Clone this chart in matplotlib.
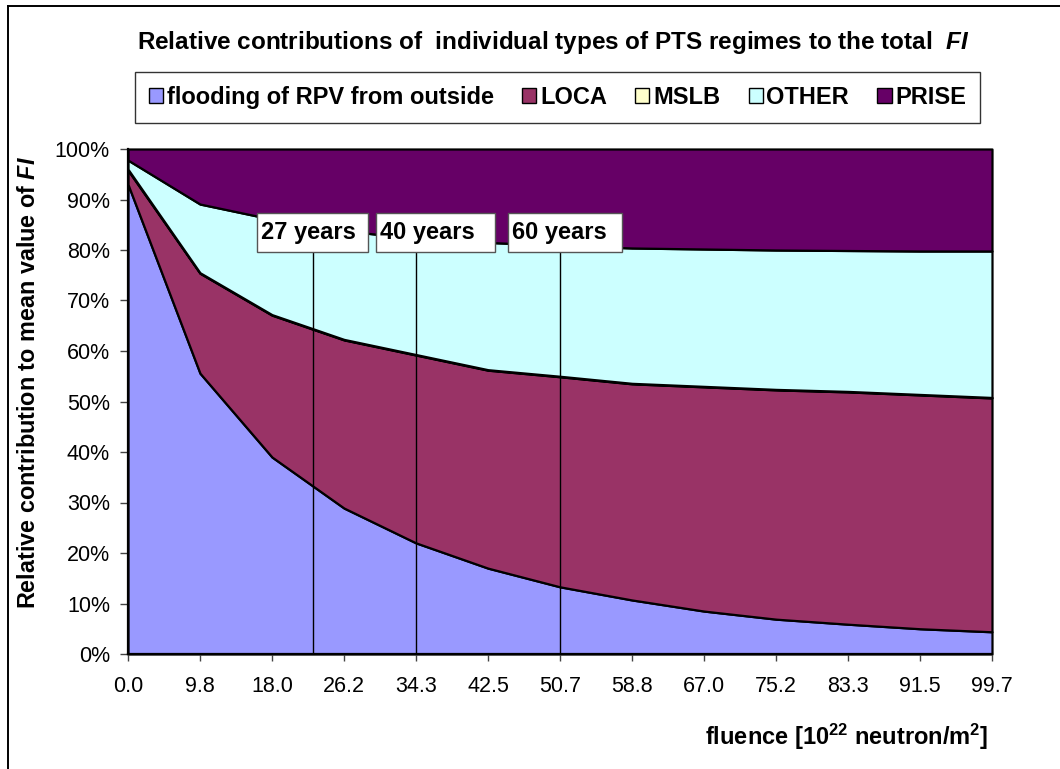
import matplotlib
matplotlib.use("Agg")
import numpy as np
import matplotlib.pyplot as plt
from matplotlib.patches import Patch, Rectangle
from matplotlib.lines import Line2D

# fluence categories [10^22 neutron/m^2]
fluence = ["0.0", "9.8", "18.0", "26.2", "34.3", "42.5", "50.7",
           "58.8", "67.0", "75.2", "83.3", "91.5", "99.7"]

# relative contributions [%]
flooding = [93.0, 55.6, 39.0, 28.9, 22.0, 17.0, 13.3, 10.7, 8.5, 6.9, 5.9, 5.0, 4.4]
loca = [2.8, 19.8, 28.1, 33.3, 37.2, 39.2, 41.6, 42.8, 44.4, 45.4, 46.0, 46.3, 46.3]
mslb = [0.2, 0.1, 0.1, 0.1, 0.1, 0.1, 0.1, 0.1, 0.1, 0.1, 0.1, 0.1, 0.1]
other = [1.8, 13.6, 18.9, 21.5, 23.0, 25.2, 25.9, 26.8, 27.2, 27.6, 27.9, 28.4, 29.0]
prise = [2.2, 10.9, 13.9, 16.2, 17.7, 18.5, 19.1, 19.6, 19.8, 20.0, 20.1, 20.2, 20.2]

series_names = ["flooding of RPV from outside", "LOCA", "MSLB", "OTHER", "PRISE"]
series_colors = ["#9999FF", "#993366", "#FFFFCC", "#CCFFFF", "#660066"]

# service-life markers (position on the category axis)
year_labels = ["27 years", "40 years", "60 years"]
year_pos = [2.57, 4.0, 6.0]

plt.rcParams["font.family"] = ["Liberation Sans", "DejaVu Sans"]
plt.rcParams["mathtext.fontset"] = "custom"
plt.rcParams["mathtext.rm"] = "Liberation Sans:bold"
plt.rcParams["mathtext.bf"] = "Liberation Sans:bold"
plt.rcParams["mathtext.it"] = "Liberation Sans:bold:italic"

W, H = 1060, 769
fig = plt.figure(figsize=(W / 100, H / 100), dpi=100)


def fx(px):
    return px / W


def fy(py):
    return 1 - py / H


ax = fig.add_axes([fx(128), fy(654), fx(992) - fx(128), fy(149) - fy(654)])

x = np.arange(len(fluence))
data = np.array([flooding, loca, mslb, other, prise]) / 100.0
polys = ax.stackplot(x, data, colors=series_colors, edgecolor="black", linewidth=1.6)
for p in polys:
    p.set_clip_on(False)

# vertical marker lines and label boxes
boxes = [(1.792, 3.333), (3.444, 5.097), (5.278, 6.861)]
box_y0, box_y1 = 0.796, 0.8733
for pos, lab, (bx0, bx1) in zip(year_pos, year_labels, boxes):
    ax.plot([pos, pos], [0, box_y0], color="black", lw=1.0, zorder=4)
    ax.add_patch(Rectangle((bx0, box_y0), bx1 - bx0, box_y1 - box_y0,
                           facecolor="white", edgecolor="#555555", lw=1.0, zorder=5))
    ax.text(bx0 + 0.05, (box_y0 + box_y1) / 2, lab, ha="left", va="center",
            fontsize=17, fontweight="bold", zorder=6)

ax.set_xlim(0, len(fluence) - 1)
ax.set_ylim(0, 1)
ax.set_xticks(x)
ax.set_xticklabels(fluence)
yt = np.arange(0, 1.01, 0.1)
ax.set_yticks(yt)
ax.set_yticklabels([f"{int(round(v * 100))}%" for v in yt])
ax.tick_params(axis="both", labelsize=15.5, direction="out", width=1.0, color="#444444")
ax.tick_params(axis="y", length=6, pad=7)
ax.tick_params(axis="x", length=5, pad=11)
for s in ["top", "right"]:
    ax.spines[s].set_visible(False)
for s in ["left", "bottom"]:
    ax.spines[s].set_linewidth(1.6)
    ax.spines[s].set_zorder(3)

# title
fig.text(fx(553), fy(43), r"Relative contributions of  individual types of PTS regimes to the total  $\mathit{FI}$",
         ha="center", va="center", fontsize=17.5, fontweight="bold")

# legend
handles = [Patch(facecolor=c, edgecolor="black", lw=1.0) for c in series_colors]
leg = fig.legend(handles, series_names, loc="center", ncol=5, mode="expand",
                 bbox_to_anchor=(fx(123), fy(126), fx(992) - fx(123), fy(69) - fy(126)),
                 prop={"size": 17, "weight": "bold"}, handlelength=0.6, handleheight=0.6,
                 handletextpad=0.15, columnspacing=1.0, borderpad=0.6, fancybox=False,
                 framealpha=1, edgecolor="#333333")
leg.get_frame().set_linewidth(1.0)

# axis labels
fig.text(fx(29), fy(382), r"Relative contribution to mean value of $\mathit{FI}$",
         rotation=90, ha="center", va="center", fontsize=16.8, fontweight="bold")
fig.text(fx(988), fy(745), r"fluence [$\mathbf{10^{22}}$ neutron/m$\mathbf{^{2}}$]",
         ha="right", va="baseline", fontsize=17, fontweight="bold")

# outer chart-area frame (top and left edges visible)
fig.add_artist(Line2D([fx(8), fx(8)], [0, fy(6)], color="black", lw=1.4))
fig.add_artist(Line2D([fx(8), 1], [fy(6), fy(6)], color="black", lw=1.4))

fig.savefig("out.png", dpi=100)
